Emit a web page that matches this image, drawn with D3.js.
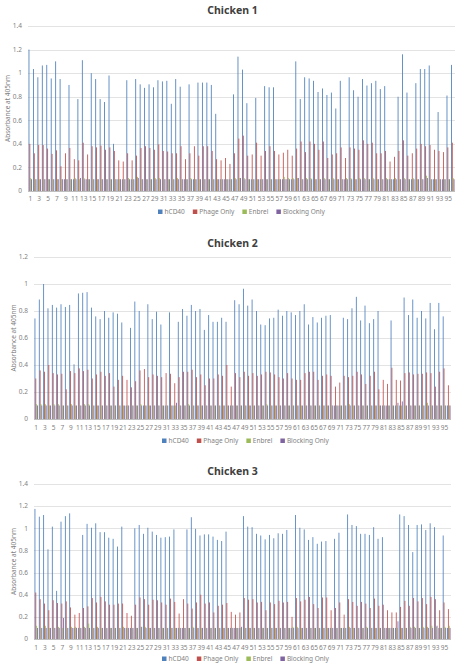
<!DOCTYPE html>
<html><head><meta charset="utf-8">
<script src="https://cdn.jsdelivr.net/npm/d3@7"></script>
<style>
html,body{margin:0;padding:0;background:#fff;}
svg{display:block;}
text{font-family:"Noto Sans","Open Sans",sans-serif;}
</style></head>
<body><svg id="chart" width="465" height="672"></svg>
<script>
const categories = d3.range(1, 97);
const seriesNames = ["hCD40", "Phage Only", "Enbrel", "Blocking Only"];
const seriesColors = ["#4F81BD", "#C0504D", "#9BBB59", "#8064A2"];
const xTickLabels = categories.filter(c => c % 2 === 1);
const yTicks1 = [0, 0.2, 0.4, 0.6, 0.8, 1, 1.2, 1.4];
const yTicks2 = [0, 0.2, 0.4, 0.6, 0.8, 1, 1.2];
const yTicks3 = [0, 0.2, 0.4, 0.6, 0.8, 1, 1.2, 1.4];

// Chicken 1
const c1_hcd40 = [
1.20,1.035,0.965,1.065,1.07,0.955,1.10,0.95,0.10,0.90,0.10,0.78,
1.11,0.10,1.00,0.95,0.78,0.755,0.98,0.40,0.10,0.10,0.94,0.10,
0.95,0.905,0.875,0.905,0.88,0.94,0.93,0.935,0.74,0.95,0.885,0.10,
0.905,0.10,0.92,0.92,0.92,0.90,0.655,0.10,0.10,0.10,0.82,1.14,
1.03,0.745,0.10,0.79,0.10,0.89,0.88,0.88,0.10,0.10,0.10,0.10,
1.10,0.78,0.965,0.955,0.935,0.84,0.87,0.815,0.835,0.70,0.935,0.10,
0.965,0.855,0.80,0.95,0.895,0.915,0.935,0.865,0.89,0.10,0.10,0.80,
1.16,0.835,0.10,0.915,1.035,1.035,1.065,0.10,0.67,0.10,0.81,1.07];
const c1_phage = [
0.40,0.32,0.39,0.39,0.36,0.315,0.345,0.21,0.32,0.365,0.27,0.26,
0.41,0.31,0.38,0.37,0.385,0.35,0.37,0.34,0.26,0.25,0.32,0.26,
0.30,0.365,0.38,0.365,0.35,0.395,0.34,0.335,0.32,0.32,0.38,0.27,
0.32,0.38,0.30,0.38,0.38,0.34,0.27,0.26,0.28,0.23,0.32,0.445,
0.47,0.30,0.31,0.41,0.30,0.34,0.38,0.34,0.31,0.325,0.35,0.30,
0.36,0.42,0.33,0.42,0.40,0.35,0.42,0.28,0.31,0.32,0.37,0.28,
0.37,0.36,0.35,0.43,0.40,0.41,0.32,0.32,0.34,0.25,0.29,0.34,
0.43,0.30,0.32,0.36,0.40,0.38,0.39,0.35,0.34,0.33,0.37,0.41];
const c1_enbrel = [
0.11,0.10,0.10,0.10,0.10,0.10,0.10,0.10,0.10,0.10,0.11,0.10,
0.11,0.10,0.10,0.10,0.10,0.10,0.10,0.10,0.10,0.10,0.11,0.10,
0.12,0.10,0.10,0.10,0.11,0.11,0.10,0.10,0.10,0.11,0.10,0.10,
0.11,0.10,0.10,0.10,0.10,0.10,0.10,0.10,0.10,0.10,0.11,0.11,
0.11,0.10,0.10,0.10,0.10,0.10,0.10,0.10,0.10,0.12,0.11,0.11,
0.11,0.10,0.11,0.11,0.10,0.10,0.11,0.10,0.11,0.10,0.10,0.11,
0.11,0.10,0.11,0.11,0.10,0.11,0.10,0.10,0.11,0.10,0.11,0.10,
0.11,0.10,0.11,0.10,0.10,0.13,0.10,0.10,0.10,0.10,0.10,0.11];
const c1_blocking = [
0.10,0.10,0.10,0.10,0.10,0.10,0.10,0.10,0.10,0.10,0.10,0.11,
0.10,0.10,0.10,0.10,0.10,0.10,0.10,0.10,0.10,0.10,0.10,0.10,
0.11,0.10,0.10,0.10,0.10,0.10,0.10,0.10,0.10,0.10,0.10,0.10,
0.10,0.10,0.10,0.10,0.10,0.10,0.10,0.10,0.10,0.10,0.10,0.11,
0.10,0.10,0.10,0.10,0.10,0.10,0.10,0.10,0.10,0.10,0.10,0.10,
0.11,0.10,0.10,0.10,0.10,0.10,0.10,0.10,0.10,0.10,0.10,0.10,
0.10,0.10,0.10,0.10,0.10,0.10,0.10,0.10,0.10,0.10,0.10,0.10,
0.10,0.10,0.10,0.10,0.10,0.11,0.10,0.10,0.10,0.10,0.10,0.10];

// Chicken 2
const c2_hcd40 = [
0.745,0.885,1.00,0.82,0.845,0.825,0.85,0.83,0.845,0.405,0.93,0.935,
0.94,0.825,0.76,0.74,0.80,0.75,0.79,0.78,0.715,0.10,0.675,0.87,
0.80,0.10,0.85,0.74,0.795,0.70,0.10,0.79,0.10,0.72,0.815,0.765,
0.845,0.80,0.815,0.66,0.77,0.72,0.72,0.75,0.72,0.10,0.88,0.85,
0.965,0.84,0.885,0.80,0.70,0.695,0.745,0.75,0.81,0.765,0.80,0.79,
0.77,0.80,0.85,0.70,0.755,0.715,0.75,0.765,0.77,0.10,0.10,0.75,
0.74,0.82,0.905,0.73,0.84,0.71,0.74,0.80,0.10,0.10,0.73,0.10,
0.10,0.90,0.77,0.885,0.75,0.80,0.745,0.86,0.665,0.86,0.76,0.10];
const c2_phage = [
0.30,0.36,0.35,0.40,0.34,0.33,0.335,0.22,0.355,0.34,0.375,0.355,
0.365,0.30,0.33,0.35,0.32,0.34,0.24,0.29,0.32,0.29,0.235,0.28,
0.36,0.37,0.31,0.33,0.32,0.31,0.34,0.335,0.265,0.31,0.35,0.35,
0.365,0.31,0.33,0.25,0.30,0.30,0.33,0.32,0.40,0.24,0.34,0.31,
0.35,0.32,0.34,0.32,0.33,0.35,0.345,0.33,0.31,0.30,0.34,0.30,
0.29,0.29,0.34,0.35,0.35,0.29,0.32,0.33,0.32,0.24,0.27,0.32,
0.31,0.32,0.35,0.33,0.26,0.32,0.35,0.22,0.29,0.26,0.38,0.29,
0.285,0.34,0.345,0.33,0.335,0.335,0.345,0.34,0.24,0.35,0.375,0.25];
const c2_enbrel = [
0.11,0.11,0.11,0.10,0.11,0.11,0.10,0.10,0.11,0.10,0.10,0.11,
0.11,0.10,0.10,0.10,0.10,0.10,0.10,0.10,0.10,0.10,0.10,0.10,
0.11,0.10,0.10,0.10,0.10,0.10,0.10,0.10,0.10,0.10,0.10,0.11,
0.10,0.10,0.10,0.10,0.10,0.10,0.10,0.10,0.10,0.10,0.10,0.10,
0.10,0.10,0.10,0.10,0.10,0.11,0.10,0.10,0.10,0.10,0.10,0.10,
0.10,0.10,0.10,0.10,0.10,0.10,0.10,0.10,0.10,0.10,0.10,0.10,
0.11,0.10,0.10,0.10,0.10,0.10,0.10,0.10,0.10,0.10,0.10,0.10,
0.10,0.10,0.10,0.10,0.10,0.10,0.12,0.10,0.10,0.10,0.10,0.10];
const c2_blocking = [
0.10,0.10,0.10,0.10,0.10,0.10,0.10,0.10,0.10,0.10,0.10,0.10,
0.10,0.10,0.10,0.10,0.10,0.10,0.10,0.10,0.10,0.10,0.10,0.10,
0.10,0.10,0.10,0.10,0.10,0.10,0.10,0.10,0.12,0.10,0.10,0.10,
0.10,0.10,0.10,0.10,0.10,0.10,0.10,0.10,0.10,0.10,0.10,0.10,
0.10,0.10,0.10,0.10,0.10,0.10,0.10,0.10,0.10,0.10,0.10,0.10,
0.10,0.10,0.10,0.10,0.10,0.10,0.10,0.10,0.10,0.10,0.10,0.10,
0.10,0.10,0.10,0.10,0.10,0.10,0.10,0.10,0.10,0.10,0.10,0.12,
0.13,0.10,0.10,0.10,0.10,0.10,0.10,0.10,0.10,0.10,0.10,0.10];

// Chicken 3
const c3_hcd40 = [
1.175,1.105,1.12,0.81,1.015,0.435,1.06,1.11,1.135,0.10,0.10,0.94,
1.04,1.005,1.045,0.965,0.965,0.915,0.905,0.835,1.015,0.10,0.10,1.00,
1.03,0.95,1.005,0.97,0.94,0.915,0.92,0.925,0.99,0.10,0.10,0.99,
1.10,0.995,0.935,0.945,0.945,0.925,0.895,0.885,0.97,0.10,0.10,0.10,
1.11,1.015,1.01,0.95,0.935,0.90,0.94,0.91,0.955,0.95,0.985,0.10,
1.12,1.005,0.99,0.895,0.92,0.86,0.88,0.885,0.10,0.905,0.96,0.10,
1.125,1.03,1.02,0.95,0.95,0.94,1.01,0.905,0.92,0.10,0.10,0.10,
1.125,1.11,1.03,0.785,1.03,1.035,0.985,1.045,1.01,0.10,0.935,0.10];
const c3_phage = [
0.42,0.36,0.32,0.26,0.35,0.325,0.32,0.34,0.285,0.22,0.235,0.28,
0.295,0.37,0.33,0.38,0.34,0.31,0.31,0.32,0.32,0.235,0.21,0.31,
0.375,0.36,0.31,0.355,0.35,0.33,0.31,0.365,0.335,0.23,0.36,0.32,
0.275,0.33,0.40,0.32,0.33,0.24,0.30,0.31,0.325,0.245,0.22,0.24,
0.37,0.355,0.36,0.33,0.335,0.26,0.33,0.315,0.345,0.33,0.335,0.20,
0.37,0.34,0.355,0.38,0.315,0.28,0.375,0.375,0.26,0.28,0.33,0.22,
0.36,0.335,0.30,0.335,0.32,0.28,0.365,0.30,0.31,0.26,0.24,0.24,
0.29,0.345,0.30,0.37,0.34,0.37,0.315,0.38,0.36,0.26,0.33,0.27];
const c3_enbrel = [
0.12,0.10,0.12,0.10,0.10,0.11,0.10,0.10,0.11,0.11,0.10,0.11,
0.14,0.10,0.11,0.10,0.10,0.10,0.10,0.10,0.11,0.10,0.10,0.10,
0.11,0.11,0.10,0.10,0.10,0.10,0.10,0.10,0.10,0.10,0.10,0.10,
0.11,0.10,0.10,0.10,0.10,0.10,0.10,0.10,0.10,0.10,0.10,0.10,
0.10,0.10,0.10,0.10,0.10,0.10,0.10,0.10,0.10,0.10,0.10,0.11,
0.11,0.10,0.10,0.10,0.10,0.10,0.10,0.10,0.10,0.10,0.10,0.10,
0.11,0.10,0.10,0.10,0.11,0.10,0.10,0.10,0.10,0.10,0.10,0.10,
0.10,0.10,0.11,0.11,0.10,0.11,0.11,0.12,0.11,0.10,0.11,0.12];
const c3_blocking = [
0.10,0.10,0.10,0.10,0.10,0.10,0.19,0.10,0.10,0.10,0.10,0.10,
0.10,0.10,0.10,0.10,0.10,0.10,0.10,0.10,0.10,0.10,0.10,0.10,
0.11,0.10,0.10,0.10,0.10,0.10,0.10,0.10,0.10,0.10,0.10,0.10,
0.10,0.10,0.10,0.10,0.10,0.10,0.10,0.10,0.10,0.10,0.10,0.11,
0.10,0.10,0.10,0.10,0.10,0.10,0.10,0.10,0.10,0.10,0.10,0.10,
0.10,0.10,0.10,0.10,0.10,0.10,0.10,0.10,0.10,0.10,0.10,0.10,
0.10,0.10,0.10,0.10,0.10,0.10,0.10,0.10,0.10,0.10,0.10,0.16,
0.10,0.10,0.10,0.10,0.10,0.10,0.10,0.10,0.12,0.10,0.10,0.10];

const svg = d3.select("#chart");

function drawPanel(opts) {
  const { title, series, yTicks, yMax, left, right, top, bottom,
          titleY, yLabelX, xLabelY, legendY, legendX } = opts;
  const g = svg.append("g");
  const y = d3.scaleLinear().domain([0, yMax]).range([bottom, top]);
  const x0 = d3.scaleBand().domain(categories).range([left, right])
    .paddingInner(0.22).paddingOuter(0.12);
  const x1 = d3.scaleBand().domain(seriesNames).range([0, x0.bandwidth()]);

  // gridlines
  g.append("g").selectAll("line").data(yTicks).join("line")
    .attr("x1", left).attr("x2", right)
    .attr("y1", d => Math.round(y(d)) + 0.5).attr("y2", d => Math.round(y(d)) + 0.5)
    .attr("stroke", d => d === 0 ? "#BFBFBF" : "#E3E3E3").attr("stroke-width", 1);

  // y tick labels
  g.append("g").selectAll("text").data(yTicks).join("text")
    .attr("x", left - 6).attr("y", d => y(d)).attr("dy", "0.35em")
    .attr("text-anchor", "end").attr("font-size", 6.5).attr("fill", "#7f7f7f")
    .text(d => d3.format("~g")(d));

  // bars
  const rows = categories.map((c, i) => ({ c, vals: series.map(s => s[i]) }));
  const cg = g.append("g").selectAll("g").data(rows).join("g")
    .attr("transform", d => `translate(${x0(d.c)},0)`);
  cg.selectAll("rect").data(d => d.vals.map((v, j) => ({ v, j }))).join("rect")
    .attr("x", d => x1(seriesNames[d.j]))
    .attr("width", x1.bandwidth())
    .attr("y", d => y(d.v))
    .attr("height", d => bottom - y(d.v))
    .attr("fill", d => seriesColors[d.j]);

  // x axis labels
  const xa = d3.axisBottom(x0).tickValues(xTickLabels).tickSize(0).tickPadding(0);
  const ax = g.append("g").attr("transform", `translate(0,${xLabelY})`).call(xa);
  ax.select(".domain").remove();
  ax.selectAll("text").attr("font-size", 6.5).attr("fill", "#7f7f7f")
    .attr("font-family", "'Noto Sans','Open Sans',sans-serif").attr("dy", "0.35em").attr("y", 0);

  // title
  g.append("text").attr("x", 232.5).attr("y", titleY).attr("text-anchor", "middle")
    .attr("font-size", 10.5).attr("font-weight", "bold").attr("fill", "#404040").text(title);

  // y axis title
  g.append("text").attr("transform", `translate(${yLabelX},${(top + bottom) / 2}) rotate(-90)`)
    .attr("text-anchor", "middle").attr("dy", "0.35em").attr("font-size", 6.5).attr("fill", "#7f7f7f")
    .text("Absorbance at 405nm");

  // legend
  const lg = g.append("g").attr("transform", `translate(0,${legendY})`);
  let lx = legendX;
  seriesNames.forEach((name, i) => {
    lg.append("rect").attr("x", lx).attr("y", -2.5).attr("width", 4.5).attr("height", 4.5)
      .attr("fill", seriesColors[i]);
    const t = lg.append("text").attr("x", lx + 6.5).attr("y", 0).attr("dy", "0.35em")
      .attr("font-size", 6.5).attr("fill", "#7f7f7f").text(name);
    lx += 6.5 + t.node().getComputedTextLength() + 8;
  });
}

drawPanel({ title: "Chicken 1", series: [c1_hcd40, c1_phage, c1_enbrel, c1_blocking],
  yTicks: yTicks1, yMax: 1.4, left: 28, right: 455, top: 26, bottom: 191,
  titleY: 14, yLabelX: 8, xLabelY: 199, legendY: 212, legendX: 158 });
drawPanel({ title: "Chicken 2", series: [c2_hcd40, c2_phage, c2_enbrel, c2_blocking],
  yTicks: yTicks2, yMax: 1.2, left: 34, right: 451, top: 257, bottom: 419,
  titleY: 247, yLabelX: 14, xLabelY: 428, legendY: 441, legendX: 162 });
drawPanel({ title: "Chicken 3", series: [c3_hcd40, c3_phage, c3_enbrel, c3_blocking],
  yTicks: yTicks3, yMax: 1.4, left: 34, right: 451, top: 484, bottom: 639,
  titleY: 475, yLabelX: 14, xLabelY: 648, legendY: 659, legendX: 162 });
</script></body></html>
